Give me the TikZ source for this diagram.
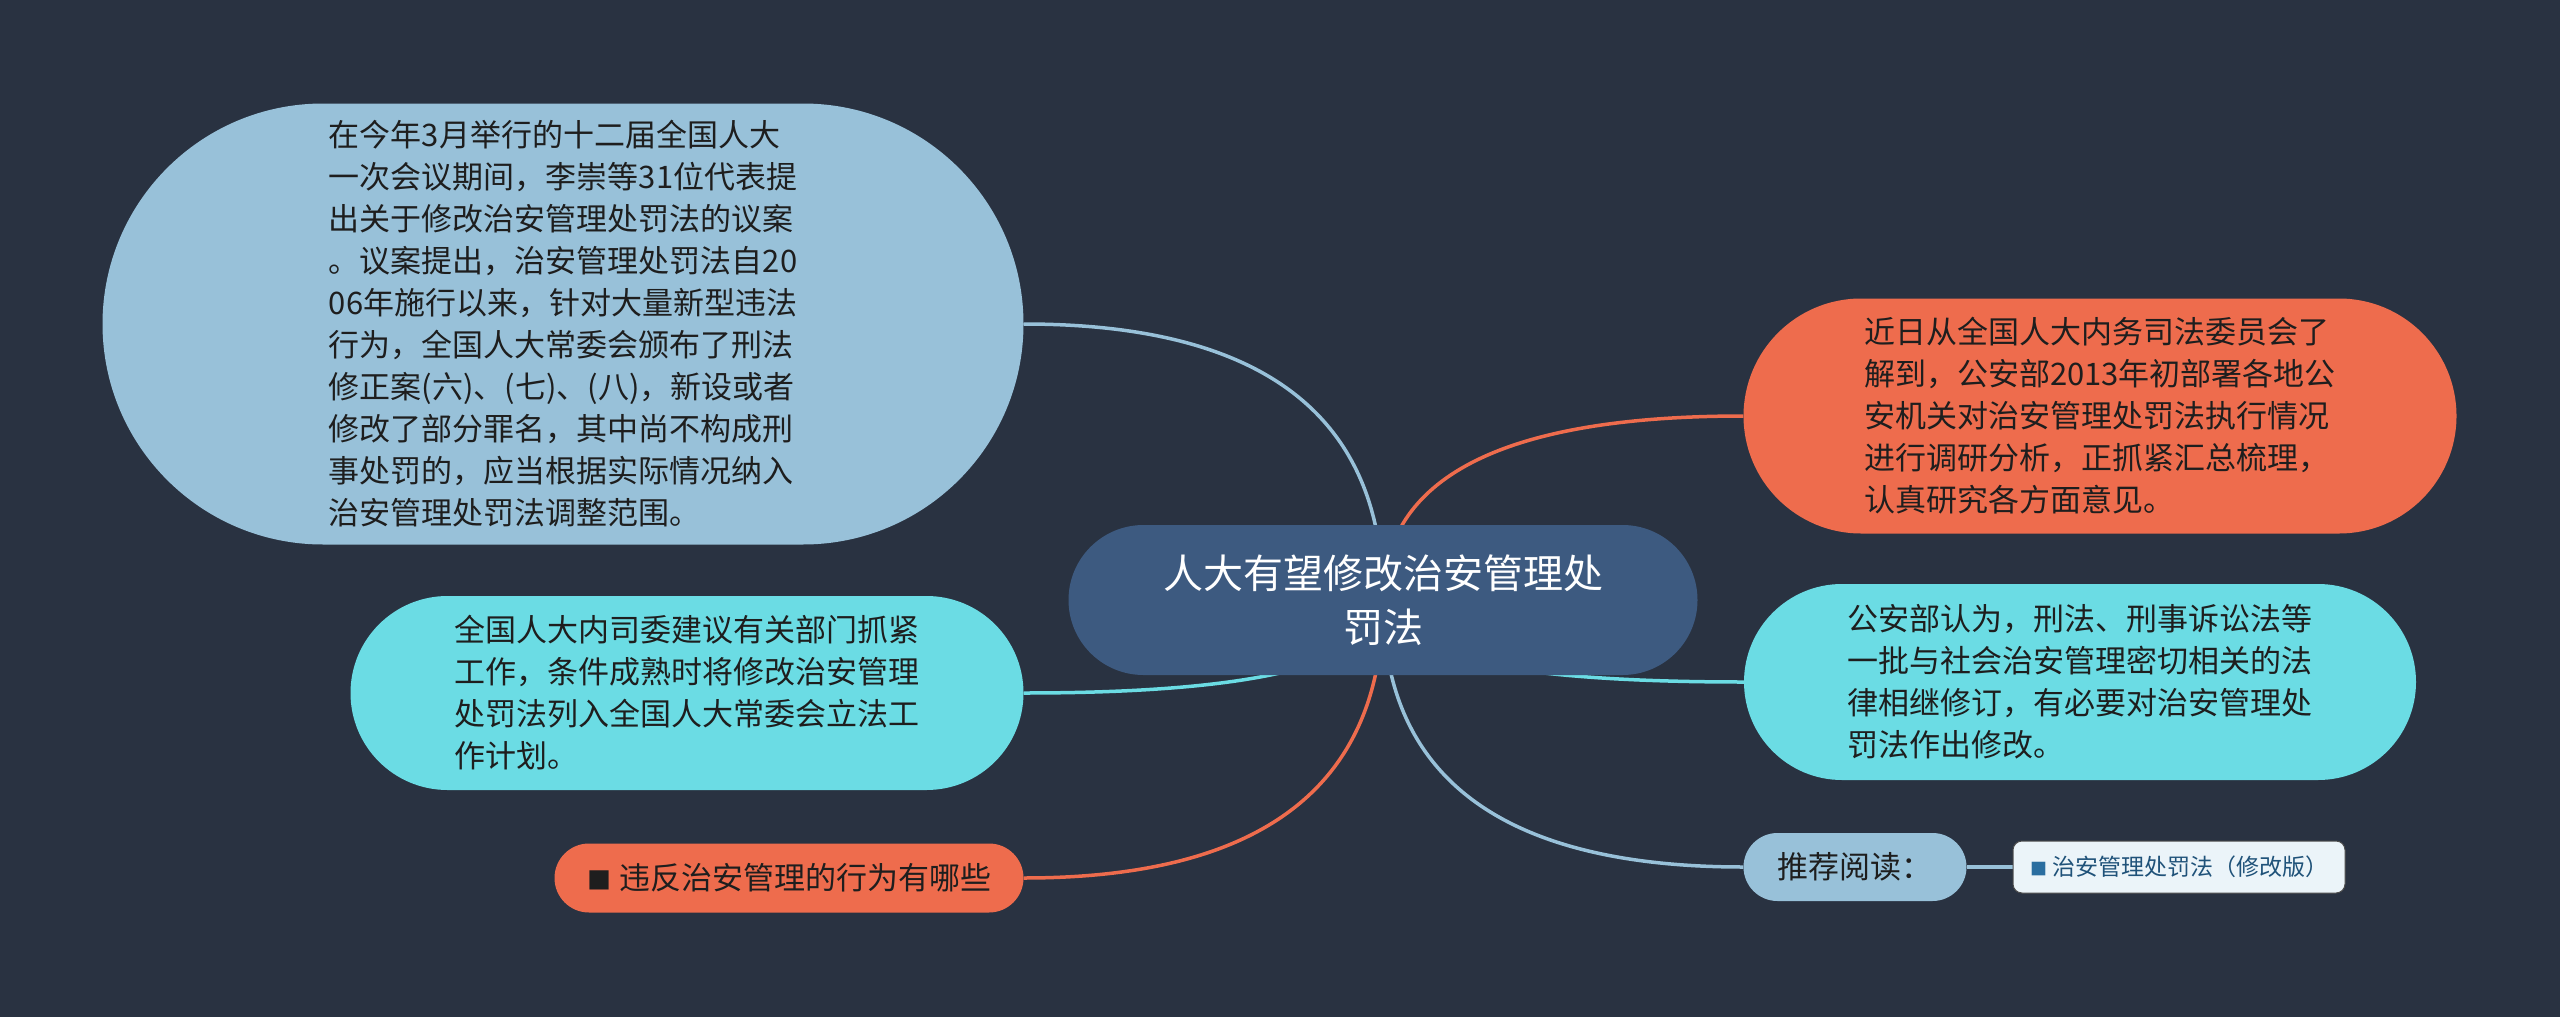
\documentclass[tikz,border=0pt]{standalone}
\usepackage{fontspec}
\setmainfont{Noto Sans CJK SC}
\usetikzlibrary{shapes.misc,calc}
\definecolor{bgc}{HTML}{293241}
\definecolor{centc}{HTML}{3D5A80}
\definecolor{lblue}{HTML}{98C1D9}
\definecolor{orng}{HTML}{EE6C4D}
\definecolor{cyanc}{HTML}{6BDCE4}
\definecolor{subfill}{HTML}{EBF4F9}
\definecolor{subtext}{HTML}{1F5279}
\definecolor{darktext}{HTML}{1E1E1E}
\pgfdeclarelayer{bglayer}
\pgfdeclarelayer{edges}
\pgfsetlayers{bglayer,edges,main}
\tikzset{
  pill/.style={rounded rectangle, inner sep=0pt, text=darktext, align=left,
    font=\fontsize{31}{42}\selectfont},
  conn/.style={line width=3.5pt},
}
\newcommand{\qlink}[3]{%
  \draw[conn,#3] (#1) .. controls ($(#1)!0.667!(#2 |- #1)$) and ($(#2.center)!0.667!(#2 |- #1)$) .. (#2.center);}
\begin{document}
\begin{tikzpicture}[x=1pt,y=-1pt]
\useasboundingbox (0,0) rectangle (2560,1017);
\begin{pgfonlayer}{bglayer}
\fill[bgc] (0,0) rectangle (2560,1017);
\end{pgfonlayer}

\node[pill, fill=centc, text=white, align=center, minimum width=629, minimum height=150,
  font=\fontsize{40}{54}\selectfont] (c) at (1383,600) {人大有望修改治安管理处\\罚法};

\node[pill, fill=lblue, minimum width=921, minimum height=441] (tl) at (563,324)
{在今年3月举行的十二届全国人大\\一次会议期间，李崇等31位代表提\\出关于修改治安管理处罚法的议案\\。议案提出，治安管理处罚法自20\\06年施行以来，针对大量新型违法\\行为，全国人大常委会颁布了刑法\\修正案(六)、(七)、(八)，新设或者\\修改了部分罪名，其中尚不构成刑\\事处罚的，应当根据实际情况纳入\\治安管理处罚法调整范围。};

\node[pill, fill=orng, minimum width=713, minimum height=235] (tr) at (2100,416)
{近日从全国人大内务司法委员会了\\解到，公安部2013年初部署各地公\\安机关对治安管理处罚法执行情况\\进行调研分析，正抓紧汇总梳理，\\认真研究各方面意见。};

\node[pill, fill=cyanc, minimum width=672, minimum height=196] (rc) at (2080,682)
{公安部认为，刑法、刑事诉讼法等\\一批与社会治安管理密切相关的法\\律相继修订，有必要对治安管理处\\罚法作出修改。};

\node[pill, fill=cyanc, minimum width=673, minimum height=194] (lc) at (687,693)
{全国人大内司委建议有关部门抓紧\\工作，条件成熟时将修改治安管理\\处罚法列入全国人大常委会立法工\\作计划。};

\node[pill, fill=orng, minimum width=469, minimum height=69] (bl) at (789,878)
{{\fontsize{24}{24}\selectfont■}\hspace{8pt}违反治安管理的行为有哪些};

\node[pill, fill=lblue, minimum width=223, minimum height=68] (rec) at (1855,867)
{推荐阅读：};

\node[draw=black!70, line width=1pt, fill=subfill, rounded corners=9pt, minimum width=332,
  minimum height=52, inner sep=0pt, text=subtext, font=\fontsize{23}{28}\selectfont] (sub) at (2179,867)
{{\fontsize{17}{17}\selectfont\color[HTML]{2A6EA0}■}\hspace{5pt}治安管理处罚法（修改版）};

\begin{pgfonlayer}{edges}
\qlink{tl.east}{c}{lblue}
\qlink{tr.west}{c}{orng}
\qlink{lc.east}{c}{cyanc}
\qlink{rc.west}{c}{cyanc}
\qlink{bl.east}{c}{orng}
\qlink{rec.west}{c}{lblue}
\draw[conn,lblue] (rec.east) -- (sub.west);
\end{pgfonlayer}
\end{tikzpicture}
\end{document}
